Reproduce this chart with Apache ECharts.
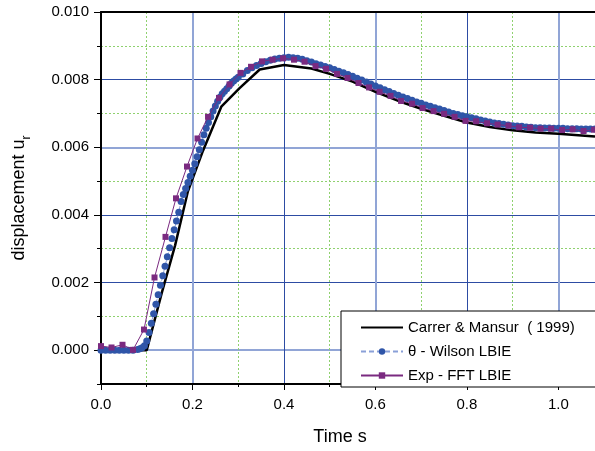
<!DOCTYPE html>
<html><head><meta charset="utf-8">
<script src="https://cdn.jsdelivr.net/npm/echarts@6/dist/echarts.min.js"></script>
<style>html,body{margin:0;padding:0;background:#fff}#c{width:595px;height:451px}</style>
</head><body><div id="c"></div>
<script>
// ---- data ----
const xMajor = [0, 0.2, 0.4, 0.6, 0.8, 1.0];
const xMinor = [0.1, 0.3, 0.5, 0.7, 0.9];
const yMajor = [0, 0.002, 0.004, 0.006, 0.008, 0.010];
const yMinor = [-0.001, 0.001, 0.003, 0.005, 0.007, 0.009];

const seriesNames = ['Carrer & Mansur  ( 1999)', 'θ - Wilson LBIE', 'Exp - FFT LBIE'];

const carrerT = [0, 0.1, 0.133, 0.162, 0.19, 0.223, 0.263, 0.303, 0.347, 0.4, 0.46, 0.5, 0.55, 0.6, 0.65, 0.7, 0.75, 0.8, 0.85, 0.9, 0.95, 1.0, 1.08];
const carrerU = [0, 0, 0.0017, 0.0031, 0.0047, 0.0059, 0.0072, 0.00775, 0.0083, 0.00843, 0.00833, 0.00817, 0.00794, 0.00764, 0.00737, 0.00714, 0.00693, 0.00673, 0.0066, 0.0065, 0.00644, 0.0064, 0.00632];

const wilsonT = [0, 0.01, 0.02, 0.03, 0.04, 0.05, 0.06, 0.07, 0.08, 0.085, 0.09, 0.095,
  0.1, 0.105, 0.11, 0.115, 0.12, 0.125, 0.13, 0.135, 0.14, 0.145, 0.15, 0.155, 0.16, 0.165, 0.17, 0.175,
  0.18, 0.185, 0.19, 0.195, 0.2, 0.205, 0.21, 0.215, 0.22, 0.225, 0.23, 0.235, 0.24, 0.245, 0.25, 0.255,
  0.26, 0.265, 0.27, 0.275, 0.28, 0.285, 0.29, 0.295, 0.3,
  0.31, 0.32, 0.33, 0.34, 0.35, 0.36, 0.37, 0.38, 0.39, 0.4, 0.41, 0.42, 0.43, 0.44, 0.45, 0.46, 0.47, 0.48, 0.49,
  0.5, 0.51, 0.52, 0.53, 0.54, 0.55, 0.56, 0.57, 0.58, 0.59, 0.6, 0.61, 0.62, 0.63, 0.64, 0.65, 0.66, 0.67, 0.68, 0.69,
  0.7, 0.71, 0.72, 0.73, 0.74, 0.75, 0.76, 0.77, 0.78, 0.79, 0.8, 0.81, 0.82, 0.83, 0.84, 0.85, 0.86, 0.87, 0.88, 0.89,
  0.9, 0.91, 0.92, 0.93, 0.94, 0.95, 0.96, 0.97, 0.98, 0.99, 1.0, 1.01, 1.02, 1.03, 1.04, 1.05, 1.06, 1.07, 1.08];
const wilsonU = [0, 0, 0, 0, 0, 0, 0, 0, 0.00002, 0.00004, 0.00007, 0.00013,
  0.00027, 0.00052, 0.0008, 0.00108, 0.00136, 0.00164, 0.00192, 0.0022, 0.00248, 0.00276, 0.00303, 0.0033, 0.00356, 0.00382, 0.00408, 0.0044,
  0.0046, 0.00478, 0.00496, 0.00514, 0.00532, 0.00551, 0.00572, 0.00593, 0.00615, 0.00637, 0.00656, 0.00673, 0.0069, 0.00707, 0.00722, 0.00736,
  0.00748, 0.00758, 0.00766, 0.00773, 0.00781, 0.00789, 0.00796, 0.00802, 0.00807,
  0.00817, 0.00827, 0.00835, 0.00842, 0.00848, 0.00853, 0.00857, 0.00861, 0.00863, 0.00865, 0.00866, 0.00865, 0.00863, 0.0086, 0.00856, 0.00852, 0.00847, 0.00843, 0.00839,
  0.00835, 0.0083, 0.00825, 0.0082, 0.00815, 0.0081, 0.00804, 0.00799, 0.00793, 0.00787, 0.00781, 0.00776, 0.0077, 0.00765, 0.00759, 0.00754, 0.00749, 0.00744, 0.00739, 0.00734,
  0.0073, 0.00725, 0.00721, 0.00717, 0.00713, 0.00709, 0.00704, 0.007, 0.00697, 0.00693, 0.0069, 0.00687, 0.00684, 0.00681, 0.00678, 0.00675, 0.00672, 0.0067, 0.00668, 0.00666,
  0.00664, 0.00663, 0.00662, 0.0066, 0.00659, 0.00658, 0.00658, 0.00657, 0.00657, 0.00656, 0.00656, 0.00656, 0.00655, 0.00655, 0.00655, 0.00654, 0.00654, 0.00654, 0.00654];

const fftT = [0, 0.023, 0.047, 0.07, 0.094, 0.117, 0.141, 0.164, 0.188, 0.211, 0.234, 0.258, 0.281, 0.305, 0.328, 0.352, 0.375, 0.398,
  0.422, 0.445, 0.469, 0.492, 0.516, 0.539, 0.563, 0.586, 0.609, 0.633, 0.656, 0.68, 0.703, 0.727, 0.75, 0.773, 0.797,
  0.82, 0.844, 0.867, 0.891, 0.914, 0.938, 0.961, 0.984, 1.008, 1.031, 1.055, 1.078];
const fftU = [0.00012, 0.00008, 0.00016, 0.00001, 0.00061, 0.00215, 0.00335, 0.00449, 0.00543, 0.00626, 0.0069, 0.00746, 0.00786, 0.0082, 0.00838, 0.00854, 0.00859, 0.00863,
  0.00859, 0.00853, 0.0084, 0.00832, 0.00817, 0.00805, 0.0079, 0.00777, 0.00764, 0.00752, 0.00737, 0.00729, 0.00716, 0.00707, 0.00699, 0.0069, 0.00678,
  0.00677, 0.00671, 0.00667, 0.00664, 0.00659, 0.00658, 0.00655, 0.00655, 0.00651, 0.00653, 0.00648, 0.00652];

// ---- styling ----
const FONT = 'Liberation Sans, Arial, sans-serif';
const T = 'rgba(0,0,0,0)';
const DARK = '#2d4ca3', LIGHT = '#91a5d6', GREEN = '#8fd16f';
const pairs = (a, b) => a.map((v, i) => [v, b[i]]);

// split lines of axes with custom tick values follow those values
const xDarkC = [T, T, DARK, T, DARK, T];            // over xMajor
const yDarkC = [T, DARK, DARK, T, DARK, T];         // over yMajor
const yGreenC = [T, GREEN, GREEN, GREEN, GREEN, GREEN]; // over yMinor
// light lines on plain interval ticks (0.1 / 0.001 steps)
const cyc = (map, n) => Array.from({length: n}, (_, i) => map[i] || T);
const xLightC = cyc({2: LIGHT, 6: LIGHT, 10: LIGHT}, 12);
const yLightC = cyc({1: LIGHT, 7: LIGHT}, 12);

const baseX = {type: 'value', min: 0, max: 1.08, interval: 0.1, gridIndex: 0};
const baseY = {type: 'value', min: -0.001, max: 0.010, interval: 0.001, gridIndex: 0};

const chart = echarts.init(document.getElementById('c'), null, {renderer: 'canvas'});
chart.setOption({
  animation: false,
  backgroundColor: '#fff',
  textStyle: {fontFamily: FONT},
  grid: {left: 101, top: 12, width: 494.64, height: 372},
  xAxis: [
    Object.assign({}, baseX, {
      position: 'bottom',
      axisLine: {show: true, onZero: false, lineStyle: {color: '#000', width: 2}},
      axisTick: {show: true, customValues: xMajor, length: 6, lineStyle: {color: '#000', width: 1}},
      axisLabel: {show: true, customValues: xMajor, formatter: v => v.toFixed(1), color: '#000', fontSize: 15, fontFamily: FONT, margin: 13},
      splitLine: {show: true, lineStyle: {color: xDarkC, width: 1}},
      name: 'Time s', nameLocation: 'middle', nameGap: 44,
      nameTextStyle: {color: '#000', fontSize: 18, fontFamily: FONT, padding: [0, 16, 0, 0]}
    }),
    Object.assign({}, baseX, {
      position: 'bottom',
      axisLine: {show: false, onZero: false},
      axisTick: {show: true, customValues: xMinor, length: 3, lineStyle: {color: '#000', width: 1}},
      axisLabel: {show: false},
      splitLine: {show: true, lineStyle: {color: GREEN, width: 1, type: [2, 2]}}
    }),
    Object.assign({}, baseX, {
      position: 'top',
      axisLine: {show: true, onZero: false, lineStyle: {color: '#000', width: 2}},
      axisTick: {show: false}, axisLabel: {show: false},
      splitLine: {show: true, lineStyle: {color: xLightC, width: 2}}
    })
  ],
  yAxis: [
    Object.assign({}, baseY, {
      position: 'left',
      axisLine: {show: true, onZero: false, lineStyle: {color: '#000', width: 2}},
      axisTick: {show: true, customValues: yMajor, length: 7, lineStyle: {color: '#000', width: 1}},
      axisLabel: {show: true, customValues: yMajor, formatter: v => v.toFixed(3), color: '#000', fontSize: 15, fontFamily: FONT, margin: 12},
      splitLine: {show: true, lineStyle: {color: yDarkC, width: 1}},
      name: '{m|displacement u}{s|r}', nameLocation: 'middle', nameGap: 68, nameRotate: 90,
      nameTextStyle: {color: '#000', fontFamily: FONT, padding: [0, 0, 0, 0],
        rich: {m: {fontSize: 18, fontFamily: FONT, color: '#000', lineHeight: 28, verticalAlign: 'middle'},
               s: {fontSize: 12, fontFamily: FONT, color: '#000', lineHeight: 12, verticalAlign: 'bottom'}}}
    }),
    Object.assign({}, baseY, {
      position: 'left',
      axisLine: {show: false, onZero: false},
      axisTick: {show: true, customValues: yMinor, length: 4, lineStyle: {color: '#000', width: 1}},
      axisLabel: {show: false},
      splitLine: {show: true, lineStyle: {color: yGreenC, width: 1, type: [2, 2]}}
    }),
    Object.assign({}, baseY, {
      position: 'right',
      axisLine: {show: false, onZero: false}, axisTick: {show: false}, axisLabel: {show: false},
      splitLine: {show: true, lineStyle: {color: yLightC, width: 2}}
    })
  ],
  legend: {
    left: 341, top: 311, orient: 'vertical',
    backgroundColor: '#fff', borderColor: '#000', borderWidth: 1, borderRadius: 0,
    padding: [9, 40, 4, 19], itemGap: 9, itemWidth: 42, itemHeight: 8,
    textStyle: {color: '#000', fontSize: 15, fontFamily: FONT, lineHeight: 14},
    data: [
      {name: seriesNames[0], itemStyle: {opacity: 0}},
      {name: seriesNames[1]},
      {name: seriesNames[2]}
    ]
  },
  series: [
    {name: seriesNames[0], type: 'line', data: pairs(carrerT, carrerU), showSymbol: false, symbol: 'none',
     lineStyle: {color: '#000', width: 2.5}, itemStyle: {color: '#000'}, z: 2},
    {name: seriesNames[1], type: 'line', data: pairs(wilsonT, wilsonU), symbol: 'circle', symbolSize: 7, showAllSymbol: true,
     lineStyle: {color: '#8aa0d8', width: 1, type: [5, 3]}, itemStyle: {color: '#2f55a8'}, z: 3},
    {name: seriesNames[2], type: 'line', data: pairs(fftT, fftU), symbol: 'rect', symbolSize: 6, showAllSymbol: true,
     lineStyle: {color: '#7a2a80', width: 1}, itemStyle: {color: '#7a2a80'}, z: 4}
  ]
});
</script></body></html>
